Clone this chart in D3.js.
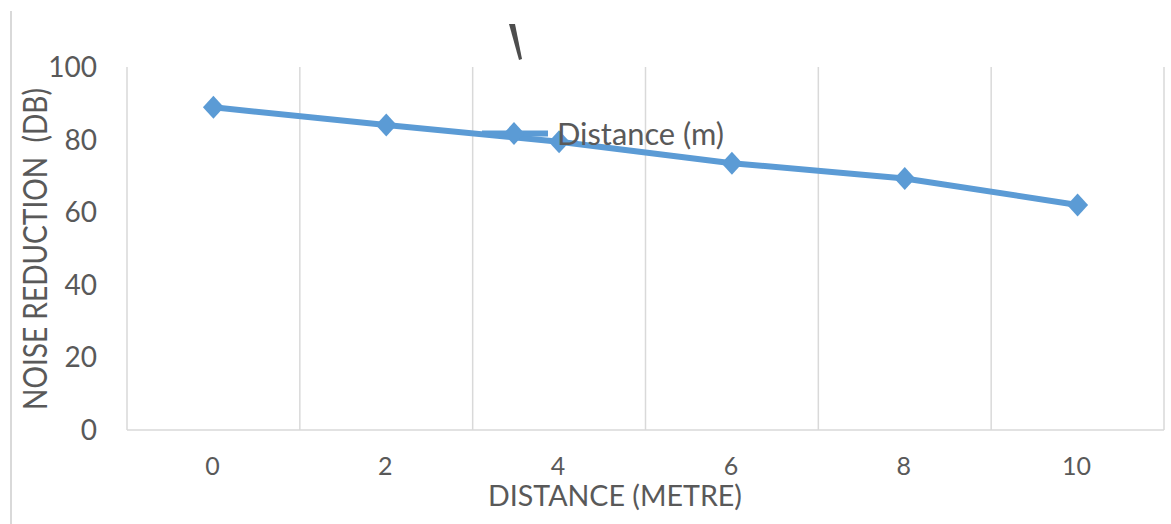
<!DOCTYPE html>
<html>
<head>
<meta charset="utf-8">
<script src="https://cdn.jsdelivr.net/npm/d3@7"></script>
<style>
  html, body { margin: 0; padding: 0; background: #fff; }
  svg { display: block; font-family: Lato, "Open Sans", "Liberation Sans", sans-serif; }
</style>
</head>
<body>
<svg id="chart" width="1171" height="524"></svg>
<script>
// ---- data ----
const categories = ["0", "2", "4", "6", "8", "10"];
const noiseValues = [88.9, 84.0, 79.4, 73.5, 69.3, 62.0];
const yTicks = [0, 20, 40, 60, 80, 100];
const seriesName = "Distance (m)";
const xTitle = "DISTANCE (METRE)";
const yTitle = "NOISE REDUCTION  (DB)";

// ---- layout ----
const svg = d3.select("#chart");
const plot = { left: 127, right: 1164, top: 67, bottom: 430 };
const grid = "#d9d9d9";
const textCol = "#595959";
const blue = "#5b9bd5";

const x = d3.scaleBand().domain(categories).range([plot.left, plot.right]).padding(0);
const y = d3.scaleLinear().domain([0, 100]).range([plot.bottom, plot.top]);

// outer left frame line
svg.append("line").attr("x1", 11).attr("x2", 11).attr("y1", 11).attr("y2", 524)
  .attr("stroke", grid).attr("stroke-width", 2);

// vertical gridlines at band boundaries
const bounds = categories.map(c => x(c)).concat([plot.right]);
svg.append("g").selectAll("line").data(bounds).join("line")
  .attr("x1", d => d).attr("x2", d => d)
  .attr("y1", plot.top).attr("y2", plot.bottom)
  .attr("stroke", grid).attr("stroke-width", 1.5);

// bottom axis line
svg.append("line").attr("x1", plot.left).attr("x2", plot.right)
  .attr("y1", plot.bottom).attr("y2", plot.bottom)
  .attr("stroke", grid).attr("stroke-width", 1.5);

// y tick labels
svg.append("g").selectAll("text").data(yTicks).join("text")
  .attr("x", 97).attr("y", d => y(d) + 10)
  .attr("text-anchor", "end")
  .attr("font-size", 28).attr("fill", textCol)
  .text(d => d);

// x tick labels
svg.append("g").selectAll("text").data(categories).join("text")
  .attr("x", d => x(d) + x.bandwidth() / 2 - 1).attr("y", 475)
  .attr("text-anchor", "middle")
  .attr("font-size", 25).attr("fill", textCol)
  .text(d => d);

// axis titles
svg.append("text")
  .attr("x", 615).attr("y", 506)
  .attr("text-anchor", "middle")
  .attr("font-size", 28).attr("fill", textCol)
  .attr("textLength", 254).attr("lengthAdjust", "spacingAndGlyphs")
  .text(xTitle);

svg.append("text")
  .attr("transform", "translate(47,249) rotate(-90)")
  .attr("text-anchor", "middle")
  .attr("font-size", 32).attr("fill", textCol)
  .attr("style", "white-space:pre")
  .attr("textLength", 322).attr("lengthAdjust", "spacingAndGlyphs")
  .text(yTitle);

// stray title fragment mark (tapered stroke)
svg.append("path")
  .attr("d", "M509,24 L515,24 L522,59 L519,60 Z")
  .attr("fill", "#4d4d4d");

// series line
const pts = categories.map((c, i) => ({ c, v: noiseValues[i] }));
const line = d3.line().x(d => x(d.c) + x.bandwidth() / 2).y(d => y(d.v));
svg.append("path").datum(pts)
  .attr("d", line).attr("fill", "none")
  .attr("stroke", blue).attr("stroke-width", 6).attr("stroke-linejoin", "round");

const diamondPath = "M0,-11.5L10.5,0L0,11.5L-10.5,0Z";
svg.append("g").selectAll("path").data(pts).join("path")
  .attr("transform", d => `translate(${x(d.c) + x.bandwidth() / 2},${y(d.v)})`)
  .attr("d", diamondPath).attr("fill", blue);

// legend (overlapping plot as in reference)
const lg = svg.append("g");
lg.append("rect").attr("x", 482).attr("y", 130.5).attr("width", 66).attr("height", 6)
  .attr("fill", blue);
lg.append("path").attr("transform", "translate(514,133.5)").attr("d", diamondPath).attr("fill", blue);
lg.append("text").attr("x", 557).attr("y", 145)
  .attr("font-size", 30).attr("fill", textCol)
  .attr("textLength", 167).attr("lengthAdjust", "spacingAndGlyphs")
  .text(seriesName);
</script>
</body>
</html>
